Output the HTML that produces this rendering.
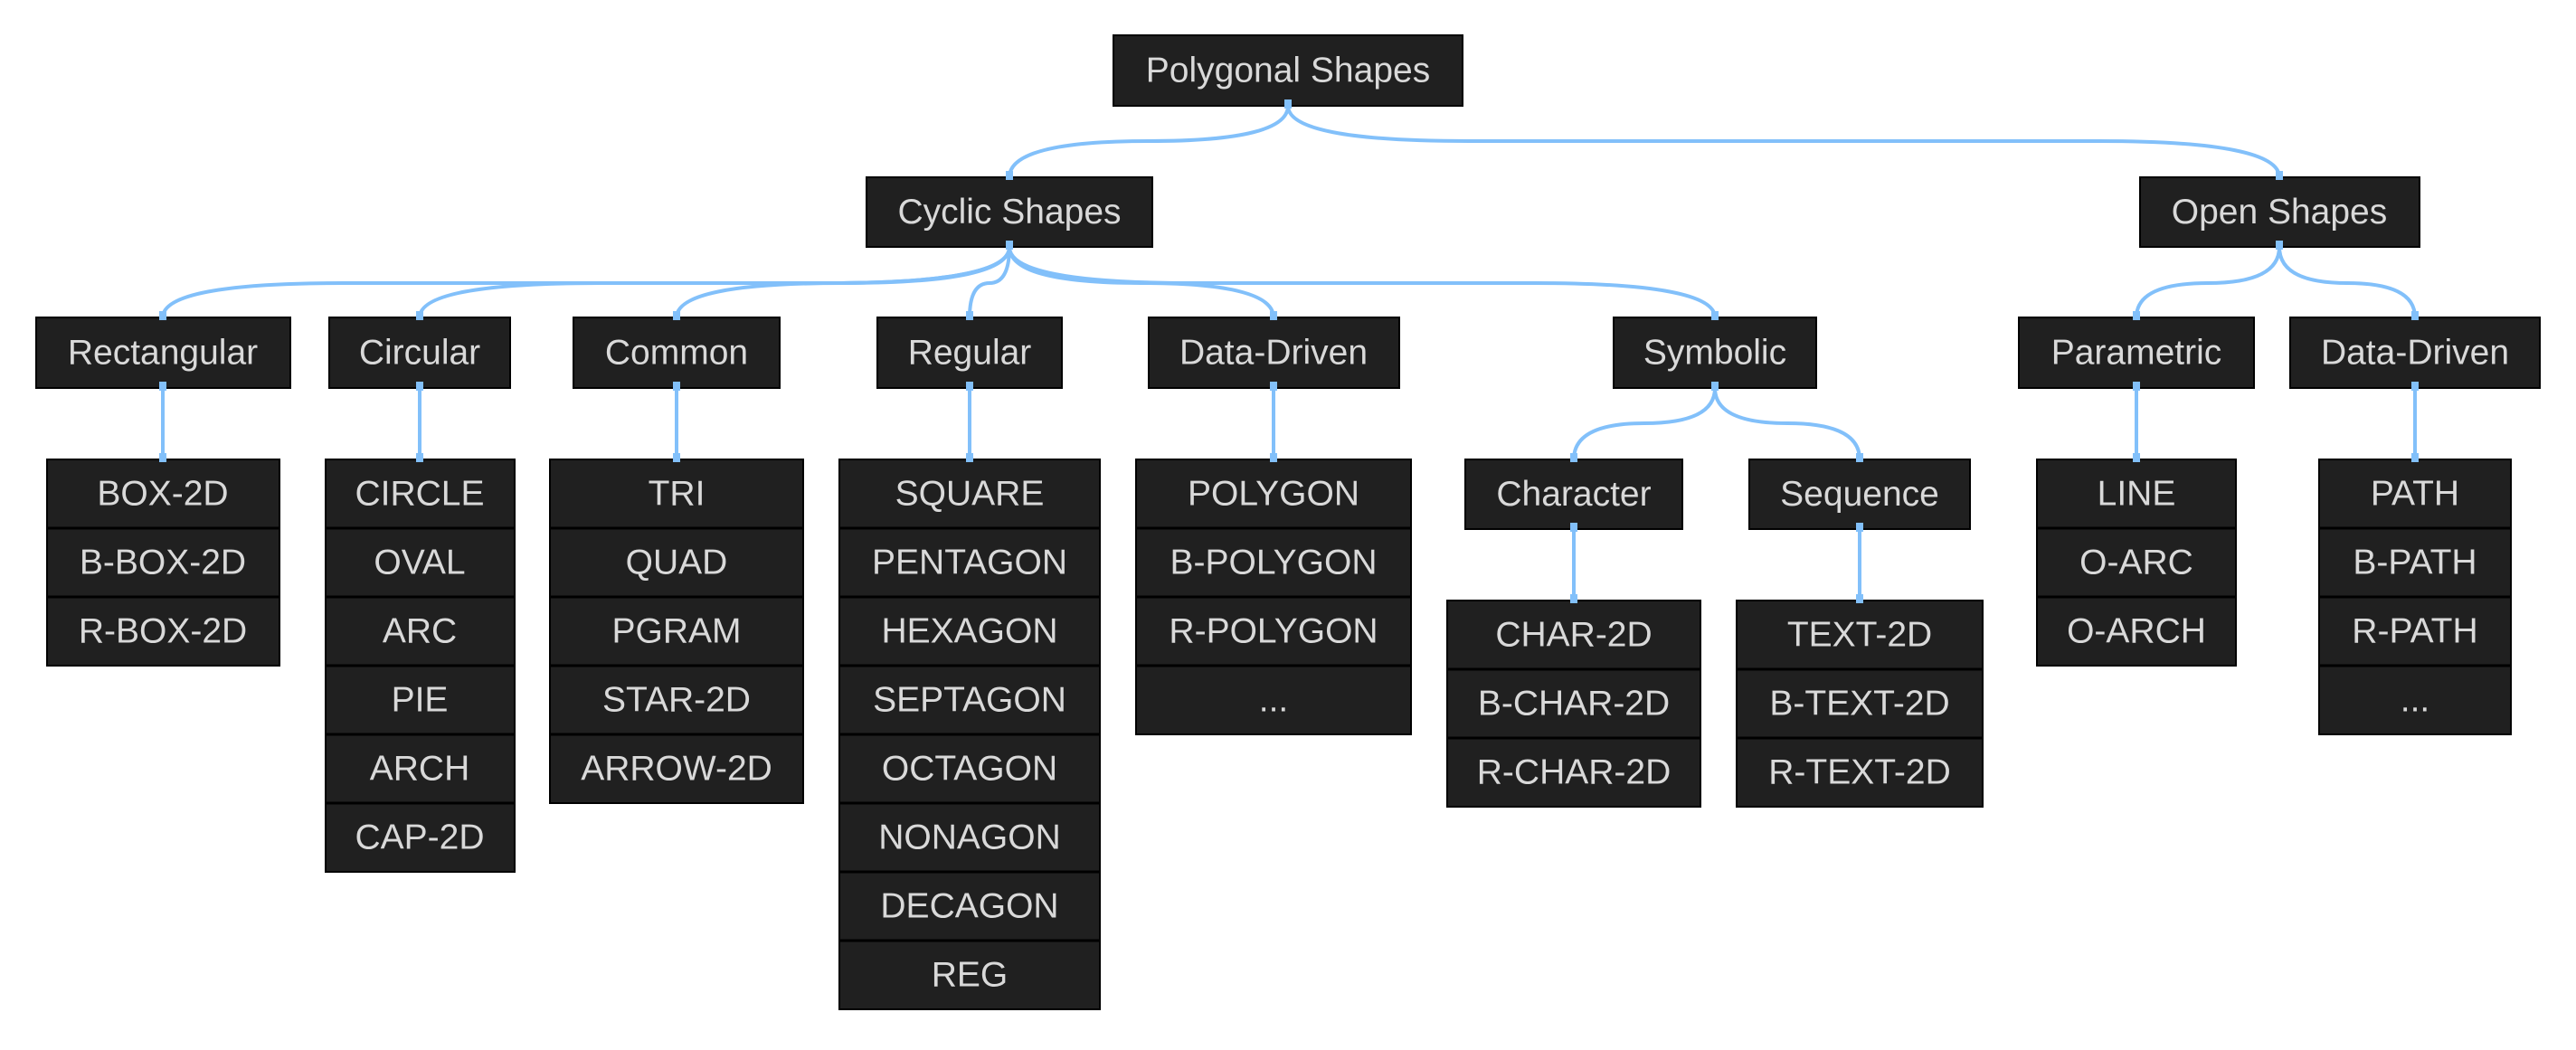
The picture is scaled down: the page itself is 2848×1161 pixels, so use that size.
<!DOCTYPE html>
<html><head><meta charset="utf-8"><style>
html,body{margin:0;padding:0;background:#fff;}
svg text{font-family:"Liberation Sans",Arial,sans-serif;font-size:39px;fill:#d9d9d9;text-anchor:middle;dominant-baseline:central;}
.b{fill:#202020;stroke:#000;stroke-width:2;}
.e{fill:none;stroke:#82c0fa;stroke-width:4;}
.p{fill:#82c0fa;}
.s{stroke:#000;stroke-width:3;}
</style></head><body>
<svg width="2848" height="1156" viewBox="0 0 2848 1156" xmlns="http://www.w3.org/2000/svg">
<g class="e">
<path d="M1424 117 Q1424 156 1270 156 Q1116 156 1116 196"/>
<path d="M1424 117 Q1424 156 1624 156 L2320 156 Q2520 156 2520 196"/>
<path d="M1116 273 Q1116 313 916 313 L380 313 Q180 313 180 351"/>
<path d="M1116 273 Q1116 313 916 313 L664 313 Q464 313 464 351"/>
<path d="M1116 273 Q1116 313 932 313 Q748 313 748 351"/>
<path d="M1116 273 Q1116 313 1094 313 Q1072 313 1072 351"/>
<path d="M1116 273 Q1116 313 1262 313 Q1408 313 1408 351"/>
<path d="M1116 273 Q1116 313 1316 313 L1696 313 Q1896 313 1896 351"/>
<path d="M2520 273 Q2520 313 2441 313 Q2362 313 2362 351"/>
<path d="M2520 273 Q2520 313 2595 313 Q2670 313 2670 351"/>
<path d="M1896 429 Q1896 468 1818 468 Q1740 468 1740 508"/>
<path d="M1896 429 Q1896 468 1976 468 Q2056 468 2056 508"/>
<path d="M180 429 V508 M464 429 V508 M748 429 V508 M1072 429 V508 M1408 429 V508 M2362 429 V508 M2670 429 V508 M1740 585 V664 M2056 585 V664"/>
</g>
<rect class="b" x="1231" y="39" width="386" height="78"/><text x="1424" y="78">Polygonal Shapes</text>
<rect class="b" x="958" y="196" width="316" height="77"/><text x="1116" y="234.5">Cyclic Shapes</text>
<rect class="b" x="2366" y="196" width="309" height="77"/><text x="2520" y="234.5">Open Shapes</text>

<rect class="b" x="40" y="351" width="281" height="78"/><text x="180" y="390">Rectangular</text>
<rect class="b" x="364" y="351" width="200" height="78"/><text x="464" y="390">Circular</text>
<rect class="b" x="634" y="351" width="228" height="78"/><text x="748" y="390">Common</text>
<rect class="b" x="970" y="351" width="204" height="78"/><text x="1072" y="390">Regular</text>
<rect class="b" x="1270" y="351" width="277" height="78"/><text x="1408" y="390">Data-Driven</text>
<rect class="b" x="1784" y="351" width="224" height="78"/><text x="1896" y="390">Symbolic</text>
<rect class="b" x="2232" y="351" width="260" height="78"/><text x="2362" y="390">Parametric</text>
<rect class="b" x="2532" y="351" width="276" height="78"/><text x="2670" y="390">Data-Driven</text>

<rect class="b" x="1620" y="508" width="240" height="77"/><text x="1740" y="546.5">Character</text>
<rect class="b" x="1934" y="508" width="244" height="77"/><text x="2056" y="546.5">Sequence</text>

<rect class="b" x="52" y="508" width="257" height="228"/>
<line class="s" x1="52" x2="309" y1="584" y2="584"/><line class="s" x1="52" x2="309" y1="660" y2="660"/>
<text x="180" y="546">BOX-2D</text><text x="180" y="622">B-BOX-2D</text><text x="180" y="698">R-BOX-2D</text>

<rect class="b" x="360" y="508" width="209" height="456"/>
<g class="s"><line x1="360" x2="569" y1="584" y2="584"/><line x1="360" x2="569" y1="660" y2="660"/><line x1="360" x2="569" y1="736" y2="736"/><line x1="360" x2="569" y1="812" y2="812"/><line x1="360" x2="569" y1="888" y2="888"/></g>
<text x="464" y="546">CIRCLE</text><text x="464" y="622">OVAL</text><text x="464" y="698">ARC</text><text x="464" y="774">PIE</text><text x="464" y="850">ARCH</text><text x="464" y="926">CAP-2D</text>

<rect class="b" x="608" y="508" width="280" height="380"/>
<g class="s"><line x1="608" x2="888" y1="584" y2="584"/><line x1="608" x2="888" y1="660" y2="660"/><line x1="608" x2="888" y1="736" y2="736"/><line x1="608" x2="888" y1="812" y2="812"/></g>
<text x="748" y="546">TRI</text><text x="748" y="622">QUAD</text><text x="748" y="698">PGRAM</text><text x="748" y="774">STAR-2D</text><text x="748" y="850">ARROW-2D</text>

<rect class="b" x="928" y="508" width="288" height="608"/>
<g class="s"><line x1="928" x2="1216" y1="584" y2="584"/><line x1="928" x2="1216" y1="660" y2="660"/><line x1="928" x2="1216" y1="736" y2="736"/><line x1="928" x2="1216" y1="812" y2="812"/><line x1="928" x2="1216" y1="888" y2="888"/><line x1="928" x2="1216" y1="964" y2="964"/><line x1="928" x2="1216" y1="1040" y2="1040"/></g>
<text x="1072" y="546">SQUARE</text><text x="1072" y="622">PENTAGON</text><text x="1072" y="698">HEXAGON</text><text x="1072" y="774">SEPTAGON</text><text x="1072" y="850">OCTAGON</text><text x="1072" y="926">NONAGON</text><text x="1072" y="1002">DECAGON</text><text x="1072" y="1078">REG</text>

<rect class="b" x="1256" y="508" width="304" height="304"/>
<g class="s"><line x1="1256" x2="1560" y1="584" y2="584"/><line x1="1256" x2="1560" y1="660" y2="660"/><line x1="1256" x2="1560" y1="736" y2="736"/></g>
<text x="1408" y="546">POLYGON</text><text x="1408" y="622">B-POLYGON</text><text x="1408" y="698">R-POLYGON</text><text x="1408" y="774">...</text>

<rect class="b" x="1600" y="664" width="280" height="228"/>
<g class="s"><line x1="1600" x2="1880" y1="740" y2="740"/><line x1="1600" x2="1880" y1="816" y2="816"/></g>
<text x="1740" y="702">CHAR-2D</text><text x="1740" y="778">B-CHAR-2D</text><text x="1740" y="854">R-CHAR-2D</text>

<rect class="b" x="1920" y="664" width="272" height="228"/>
<g class="s"><line x1="1920" x2="2192" y1="740" y2="740"/><line x1="1920" x2="2192" y1="816" y2="816"/></g>
<text x="2056" y="702">TEXT-2D</text><text x="2056" y="778">B-TEXT-2D</text><text x="2056" y="854">R-TEXT-2D</text>

<rect class="b" x="2252" y="508" width="220" height="228"/>
<g class="s"><line x1="2252" x2="2472" y1="584" y2="584"/><line x1="2252" x2="2472" y1="660" y2="660"/></g>
<text x="2362" y="546">LINE</text><text x="2362" y="622">O-ARC</text><text x="2362" y="698">O-ARCH</text>

<rect class="b" x="2564" y="508" width="212" height="304"/>
<g class="s"><line x1="2564" x2="2776" y1="584" y2="584"/><line x1="2564" x2="2776" y1="660" y2="660"/><line x1="2564" x2="2776" y1="736" y2="736"/></g>
<text x="2670" y="546">PATH</text><text x="2670" y="622">B-PATH</text><text x="2670" y="698">R-PATH</text><text x="2670" y="774">...</text>

<g class="p">
<rect x="1420" y="110" width="8" height="10"/>
<rect x="1112" y="189" width="8" height="10"/><rect x="2516" y="189" width="8" height="10"/>
<rect x="1112" y="266" width="8" height="10"/><rect x="2516" y="266" width="8" height="10"/>
<rect x="176" y="344" width="8" height="10"/><rect x="460" y="344" width="8" height="10"/><rect x="744" y="344" width="8" height="10"/><rect x="1068" y="344" width="8" height="10"/><rect x="1404" y="344" width="8" height="10"/><rect x="1892" y="344" width="8" height="10"/><rect x="2358" y="344" width="8" height="10"/><rect x="2666" y="344" width="8" height="10"/>
<rect x="176" y="422" width="8" height="10"/><rect x="460" y="422" width="8" height="10"/><rect x="744" y="422" width="8" height="10"/><rect x="1068" y="422" width="8" height="10"/><rect x="1404" y="422" width="8" height="10"/><rect x="1892" y="422" width="8" height="10"/><rect x="2358" y="422" width="8" height="10"/><rect x="2666" y="422" width="8" height="10"/>
<rect x="176" y="501" width="8" height="10"/><rect x="460" y="501" width="8" height="10"/><rect x="744" y="501" width="8" height="10"/><rect x="1068" y="501" width="8" height="10"/><rect x="1404" y="501" width="8" height="10"/><rect x="1736" y="501" width="8" height="10"/><rect x="2052" y="501" width="8" height="10"/><rect x="2358" y="501" width="8" height="10"/><rect x="2666" y="501" width="8" height="10"/>
<rect x="1736" y="578" width="8" height="10"/><rect x="2052" y="578" width="8" height="10"/>
<rect x="1736" y="657" width="8" height="10"/><rect x="2052" y="657" width="8" height="10"/>
</g>
</svg>
</body></html>
